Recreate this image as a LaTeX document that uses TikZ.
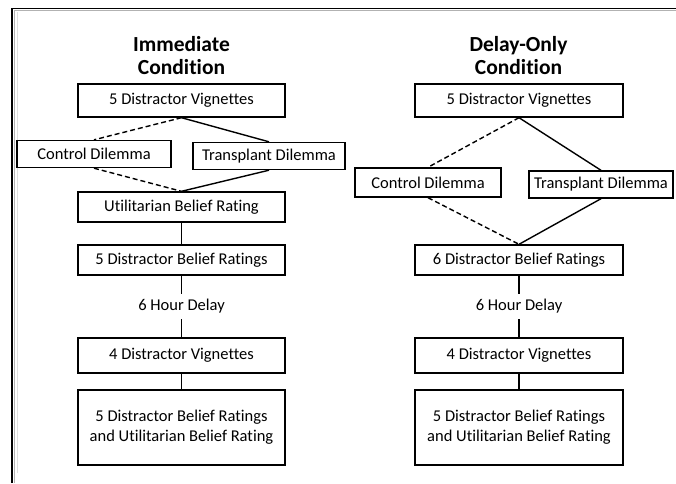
\documentclass[tikz,border=0pt]{standalone}
\usepackage{fontspec}
\setmainfont{Carlito}[Ligatures=NoCommon]
\begin{document}
\begin{tikzpicture}[x=1pt,y=-1pt,
  box/.style={draw, line width=1.4pt, minimum width=207pt, minimum height=32pt, inner sep=0pt, align=center, font=\fontsize{16.5}{20}\selectfont},
  dil/.style={draw, line width=1.4pt, minimum height=27pt, inner sep=0pt, font=\fontsize{16.5}{20}\selectfont},
  title/.style={align=center, font=\fontsize{21.5}{23}\selectfont\bfseries},
  conn/.style={line width=1.4pt},
  dconn/.style={conn, dash pattern=on 5pt off 3pt}]
\useasboundingbox (0,0) rectangle (676,483);
% frame of the screenshot
\draw[line width=1.4pt] (12,483) -- (12,8.5) -- (676,8.5);
\draw[gray!60, line width=0.6pt] (14,483) -- (14,10.5) -- (676,10.5);
\draw[gray!25, line width=0.6pt] (17.5,473) -- (17.5,12);
%\small
% immediate condition
\node[title] (ti) at (181.5,56) {Immediate\\Condition};
\node[box, minimum height=33pt] (iv) at (181.5,100.5) {5 Distractor Vignettes};
\node[dil, minimum width=154pt] (ic) at (94,154) {Control Dilemma};
\node[dil, minimum width=152pt] (it) at (269,156) {Transplant Dilemma};
\node[box, minimum height=30pt] (iu) at (181.5,207) {Utilitarian Belief Rating};
\node[box, minimum height=30pt] (ib) at (181.5,260) {5 Distractor Belief Ratings};
\node[font=\fontsize{16.5}{20}\selectfont] (id) at (181.5,306.5) {6 Hour Delay};
\node[box, minimum height=35pt] (i4) at (181.5,355.5) {4 Distractor Vignettes};
\node[box, minimum height=75pt] (ie) at (181.5,427.5) {5 Distractor Belief Ratings\\and Utilitarian Belief Rating};
\draw[dconn] (iv.south) -- (ic.north) (ic.south) -- (iu.north);
\draw[conn] (iv.south) -- (it.north) (it.south) -- (iu.north);
\draw[conn] (iu) -- (ib);
\draw[conn] (ib.south) -- ++(0,18);
\draw[conn] (i4.north) -- ++(0,-18);
\draw[conn] (i4) -- (ie);
% delay-only condition
\node[title] (td) at (518.5,56) {Delay-Only\\Condition};
\node[box, minimum width=208pt, minimum height=33pt] (dv) at (519,100.5) {5 Distractor Vignettes};
\node[dil, minimum width=146pt, minimum height=29pt] (dc) at (428,182.5) {Control Dilemma};
\node[dil, minimum width=144pt] (dt) at (601,184.5) {Transplant Dilemma};
\node[box, minimum width=208pt, minimum height=30pt] (db) at (519,260) {6 Distractor Belief Ratings};
\node[font=\fontsize{16.5}{20}\selectfont] (dd) at (519,306.5) {6 Hour Delay};
\node[box, minimum width=208pt, minimum height=35pt] (d4) at (519,355.5) {4 Distractor Vignettes};
\node[box, minimum width=208pt, minimum height=75pt] (de) at (519,427.5) {5 Distractor Belief Ratings\\and Utilitarian Belief Rating};
\draw[dconn] (dv.south) -- (dc.north) (dc.south) -- (db.north);
\draw[conn] (dv.south) -- (dt.north) (dt.south) -- (db.north);
\draw[conn] (db.south) -- ++(0,18);
\draw[conn] (d4.north) -- ++(0,-18);
\draw[conn] (d4) -- (de);
\end{tikzpicture}
\end{document}
